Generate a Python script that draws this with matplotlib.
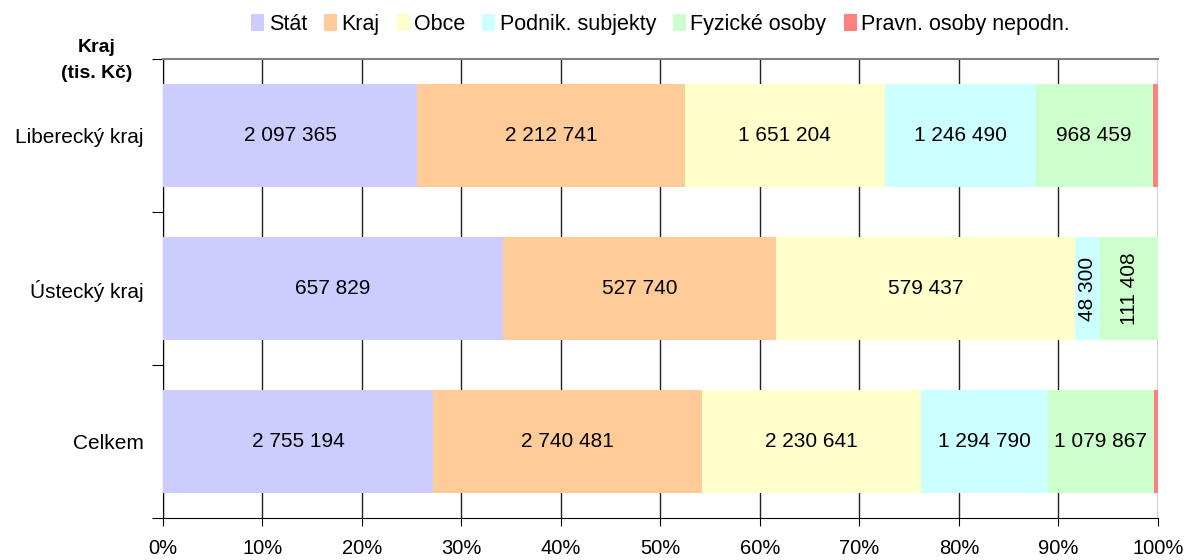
import matplotlib.pyplot as plt
import numpy as np

plt.rcParams['font.family'] = ['Liberation Sans', 'DejaVu Sans']

regions = ['Liberecký kraj', 'Ústecký kraj', 'Celkem']
series = ['Stát', 'Kraj', 'Obce', 'Podnik. subjekty', 'Fyzické osoby',
          'Pravn. osoby nepodn.']
stat = [2097365, 657829, 2755194]
kraj = [2212741, 527740, 2740481]
obce = [1651204, 579437, 2230641]
podnik = [1246490, 48300, 1294790]
fyzicke = [968459, 111408, 1079867]
pravn = [42000, 0, 42000]
colors = ['#CCCCFF', '#FFCC99', '#FFFFCC', '#CCFFFF', '#CCFFCC', '#FF8080']

data = np.array([stat, kraj, obce, podnik, fyzicke, pravn], dtype=float)
share = data / data.sum(axis=0) * 100

fig = plt.figure(figsize=(11.88, 5.6), dpi=100)
ax = fig.add_axes([0.1372, 0.075, 0.8375, 0.8196])

ypos = np.arange(len(regions))
left = np.zeros(len(regions))
for i, name in enumerate(series):
    ax.barh(ypos, share[i], left=left, height=0.67, color=colors[i],
            label=name, zorder=3)
    if i < 5:
        for j in range(len(regions)):
            w = share[i][j]
            txt = f'{int(data[i][j]):,}'.replace(',', ' ')
            rot = 90 if w < 8 else 0
            ax.text(left[j] + w / 2, ypos[j], txt, ha='center', va='center',
                    rotation=rot, fontsize=15, zorder=4)
    left += share[i]

ax.set_xlim(0, 100)
ax.set_ylim(2.5, -0.5)
ax.set_xticks(np.arange(0, 101, 10))
ax.set_xticklabels([f'{v}%' for v in range(0, 101, 10)], fontsize=14.5)
ax.tick_params(axis='x', length=6, pad=9)
ax.xaxis.grid(True, color='#222222', linewidth=1, zorder=1)

ax.set_yticks([-0.5, 0.5, 1.5, 2.5])
ax.set_yticklabels([])
ax.set_yticks(ypos, minor=True)
ax.set_yticklabels(regions, minor=True, fontsize=15)
ax.tick_params(axis='y', which='major', length=8)
ax.tick_params(axis='y', which='minor', length=0, pad=14)

ax.spines['right'].set_visible(False)
ax.spines['top'].set_color('#808080')
ax.spines['top'].set_linewidth(1.5)

fig.text(0.081, 0.892, 'Kraj\n(tis. Kč)', ha='center', va='center',
         fontsize=14, fontweight='bold', linespacing=1.75)

ax.legend(loc='upper center', bbox_to_anchor=(0.5, 1.14), ncol=6,
          frameon=False, fontsize=15.5, handlelength=0.6, handleheight=0.8,
          handletextpad=0.2, columnspacing=0.8)

fig.savefig('out.png', dpi=100)
